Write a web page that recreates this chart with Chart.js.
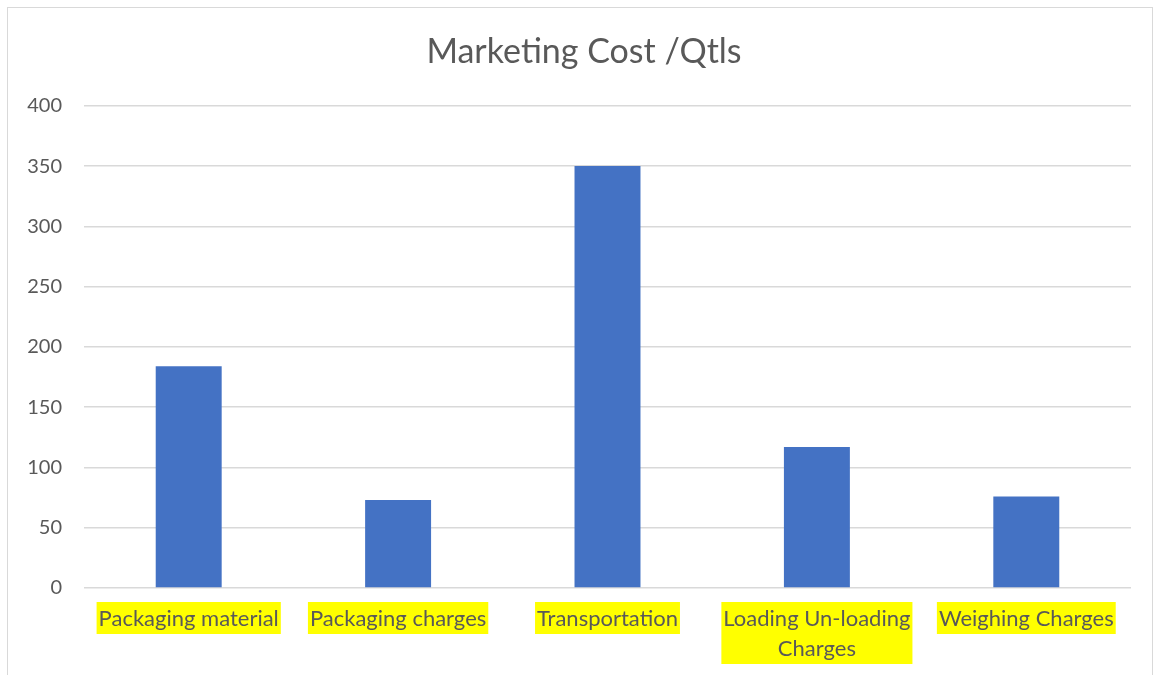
<!DOCTYPE html>
<html><head><meta charset="utf-8">
<script src="https://cdn.jsdelivr.net/npm/chart.js@4"></script>
<style>
html,body{margin:0;padding:0;background:#fff;overflow:hidden}
#wrap{position:relative;width:1160px;height:675px}
#frame{position:absolute;left:7px;top:7px;width:1146px;height:720px;border:1px solid #d9d9d9;box-sizing:border-box}
canvas{position:absolute;left:0;top:0}
</style></head><body>
<div id="wrap"><div id="frame"></div><canvas id="c" width="1160" height="675"></canvas></div>
<script>
const chartTitle = "Marketing Cost /Qtls";
const categories = ["Packaging material", "Packaging charges", "Transportation", ["Loading Un-loading", "Charges"], "Weighing Charges"];
const costPerQtl = [184, 73, 350, 117, 76];
const yTickValues = [0, 50, 100, 150, 200, 250, 300, 350, 400];

const FONT = "Lato, 'Liberation Sans', sans-serif";
const TEXT = "#595959";
const XSIZE = 22;
const LH = 30;

const highlight = {
  id: 'highlight',
  beforeDraw(chart) {
    const s = chart.scales.x;
    const ctx = chart.ctx;
    ctx.save();
    ctx.font = XSIZE + "px " + FONT;
    ctx.fillStyle = "#ffff00";
    s.ticks.forEach((t, i) => {
      const lines = Array.isArray(t.label) ? t.label : [t.label];
      const w = Math.max(...lines.map(l => ctx.measureText(l).width));
      const cx = s.getPixelForTick(i);
      ctx.fillRect(cx - w / 2 - 2, s.top + 14, w + 4, lines.length * LH + 2);
    });
    ctx.restore();
  }
};

new Chart(document.getElementById('c'), {
  type: 'bar',
  data: {
    labels: categories,
    datasets: [{
      data: costPerQtl,
      backgroundColor: "#4472C4",
      borderWidth: 0,
      barPercentage: 1,
      categoryPercentage: 0.315
    }]
  },
  options: {
    responsive: false,
    devicePixelRatio: 1,
    animation: false,
    layout: { padding: { left: 8, right: 0, top: 0, bottom: 0 } },
    plugins: {
      legend: { display: false },
      tooltip: { enabled: false },
      title: {
        display: true,
        text: chartTitle,
        color: TEXT,
        font: { family: FONT, size: 34, weight: 'normal', lineHeight: 1.2 },
        padding: { top: 32, bottom: 33 }
      }
    },
    scales: {
      x: {
        grid: { display: false, drawTicks: false },
        border: { display: false },
        ticks: {
          color: TEXT,
          font: { family: FONT, size: XSIZE, lineHeight: LH / XSIZE },
          padding: 16,
          maxRotation: 0,
          autoSkip: false
        },
        afterFit(scale) { scale.height = 87; }
      },
      y: {
        min: 0,
        max: 400,
        afterBuildTicks(scale) { scale.ticks = yTickValues.map(v => ({ value: v })); },
        grid: { color: "#d9d9d9", lineWidth: 1.5, drawTicks: false },
        border: { display: false },
        ticks: {
          color: TEXT,
          font: { family: FONT, size: 20 },
          padding: 22
        },
        afterFit(scale) { scale.width = 76; }
      },
      yRight: {
        position: 'right',
        min: 0,
        max: 1,
        grid: { display: false, drawTicks: false },
        border: { display: false },
        ticks: { display: false },
        afterFit(scale) { scale.width = 29; }
      }
    }
  },
  plugins: [highlight]
});
</script>
</body></html>
